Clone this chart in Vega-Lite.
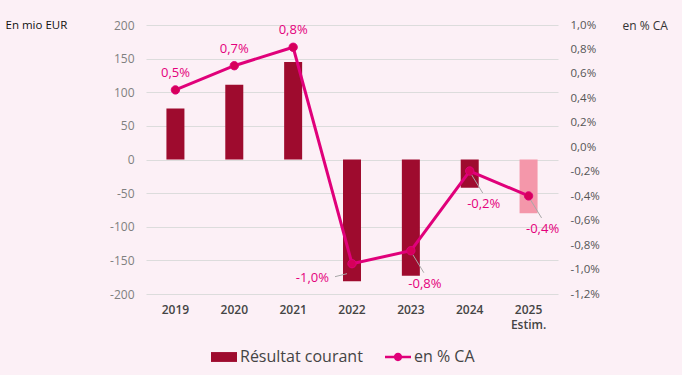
{
  "$schema": "https://vega.github.io/schema/vega-lite/v6.json",
  "width": 412,
  "height": 269,
  "autosize": {"type": "none"},
  "padding": {"left": 146, "top": 25, "right": 124, "bottom": 81},
  "background": "#fcf0f6",
  "config": {
    "locale": {"number": {"decimal": ",", "thousands": " ", "grouping": [3], "currency": ["", " €"], "minus": "-"}},
    "view": {"stroke": null},
    "font": "Open Sans"
  },
  "data": {
    "values": [
      {"year": 2019, "result": 76, "pct": 0.00469, "statut": "Résultat courant"},
      {"year": 2020, "result": 111, "pct": 0.00667, "statut": "Résultat courant"},
      {"year": 2021, "result": 145, "pct": 0.00818, "statut": "Résultat courant"},
      {"year": 2022, "result": -181, "pct": -0.00952, "statut": "Résultat courant"},
      {"year": 2023, "result": -173, "pct": -0.00846, "statut": "Résultat courant"},
      {"year": 2024, "result": -42, "pct": -0.00194, "statut": "Résultat courant"},
      {"year": 2025, "result": -80, "pct": -0.00398, "statut": "Estimation"}
    ]
  },
  "encoding": {
    "x": {
      "field": "year",
      "type": "ordinal",
      "scale": {"paddingInner": 0, "paddingOuter": 0},
      "axis": {
        "title": null,
        "domain": false,
        "ticks": false,
        "labelAngle": 0,
        "labelPadding": 10,
        "labelFontSize": 12,
        "labelFontWeight": 600,
        "labelLineHeight": 15,
        "labelBaseline": "top",
        "labelColor": "#444444",
        "labelExpr": "datum.value == 2025 ? ['2025', 'Estim.'] : datum.label"
      }
    }
  },
  "layer": [
    {
      "mark": {"type": "bar", "size": 18},
      "encoding": {
        "y": {
          "field": "result",
          "type": "quantitative",
          "scale": {"domain": [-200, 200], "nice": false},
          "axis": {
            "values": [-200, -150, -100, -50, 0, 50, 100, 150, 200],
            "domain": false,
            "ticks": false,
            "grid": true,
            "gridColor": "#dcdcdc",
            "labelPadding": 12,
            "labelFontSize": 12,
            "labelColor": "#808080",
            "title": "En mio EUR",
            "titleAngle": 0,
            "titleX": -141,
            "titleY": 0,
            "titleAlign": "left",
            "titleBaseline": "middle",
            "titleFontSize": 11.5,
            "titleFontWeight": "normal",
            "titleColor": "#111111"
          }
        },
        "color": {
          "field": "statut",
          "type": "nominal",
          "scale": {
            "domain": ["Résultat courant", "Estimation", "en % CA"],
            "range": ["#9e0b2e", "#f497aa", "#e0007a"]
          },
          "legend": {
            "values": ["Résultat courant", "en % CA"],
            "title": null,
            "orient": "none",
            "direction": "horizontal",
            "legendX": 65,
            "legendY": 319,
            "labelFontSize": 16,
            "labelColor": "#444444",
            "symbolSize": 676,
            "labelOffset": 3,
            "columnPadding": 22,
            "encode": {
              "symbols": {
                "update": {
                  "shape": {"signal": "datum.value === 'en % CA' ? 'M-1,-0.1H1V0.1H-1Z M-0.32,0A0.32,0.32 0 1,1 0.32,0A0.32,0.32 0 1,1 -0.32,0Z' : 'M-1,-0.38H1V0.38H-1Z'"},
                  "fill": {"scale": "color", "field": "value"},
                  "strokeWidth": {"value": 0},
                  "opacity": {"value": 1}
                }
              }
            }
          }
        }
      }
    },
    {
      "encoding": {
        "y": {
          "field": "pct",
          "type": "quantitative",
          "scale": {"domain": [-0.012, 0.010], "nice": false, "zero": false},
          "axis": {
            "orient": "right",
            "values": [-0.012, -0.010, -0.008, -0.006, -0.004, -0.002, 0, 0.002, 0.004, 0.006, 0.008, 0.010],
            "format": ".1%",
            "domain": false,
            "ticks": false,
            "grid": false,
            "labelPadding": 12,
            "labelFontSize": 11.5,
            "labelColor": "#555555",
            "title": "en % CA",
            "titleAngle": 0,
            "titleX": 64,
            "titleY": 0,
            "titleAlign": "left",
            "titleBaseline": "middle",
            "titleFontSize": 12,
            "titleFontWeight": "normal",
            "titleColor": "#333333"
          }
        }
      },
      "layer": [
        {
          "mark": {"type": "line", "strokeWidth": 3},
          "encoding": {"color": {"datum": "en % CA"}}
        },
        {
          "transform": [{"filter": "datum.year >= 2023"}],
          "mark": {"type": "rule", "color": "#a8a8a8", "strokeWidth": 1, "xOffset": 2, "yOffset": 4, "x2Offset": 13, "y2Offset": 22},
          "encoding": {"x2": {"field": "year"}, "y2": {"field": "pct"}}
        },
        {
          "transform": [{"filter": "datum.year == 2022"}],
          "mark": {"type": "rule", "color": "#a8a8a8", "strokeWidth": 1, "xOffset": -5, "yOffset": 10, "x2Offset": -17, "y2Offset": 13},
          "encoding": {"x2": {"field": "year"}, "y2": {"field": "pct"}}
        },
        {
          "mark": {"type": "point", "filled": true, "size": 70, "opacity": 1, "stroke": "#e0007a", "strokeWidth": 1},
          "encoding": {"color": {"datum": "en % CA"}, "fill": {"value": "#d6005a"}}
        },
        {
          "transform": [{"filter": "datum.year <= 2021"}],
          "mark": {"type": "text", "dy": -17, "fontSize": 13, "color": "#e4007c"},
          "encoding": {"text": {"field": "pct", "type": "quantitative", "format": ".1%"}}
        },
        {
          "transform": [{"filter": "datum.year == 2022"}],
          "mark": {"type": "text", "dx": -23, "dy": 14, "align": "right", "fontSize": 13, "color": "#e4007c"},
          "encoding": {"text": {"field": "pct", "type": "quantitative", "format": ".1%"}}
        },
        {
          "transform": [{"filter": "datum.year >= 2023"}],
          "mark": {"type": "text", "dx": 14, "dy": 33, "fontSize": 13, "color": "#e4007c"},
          "encoding": {"text": {"field": "pct", "type": "quantitative", "format": ".1%"}}
        }
      ]
    }
  ],
  "resolve": {"scale": {"y": "independent"}}
}
